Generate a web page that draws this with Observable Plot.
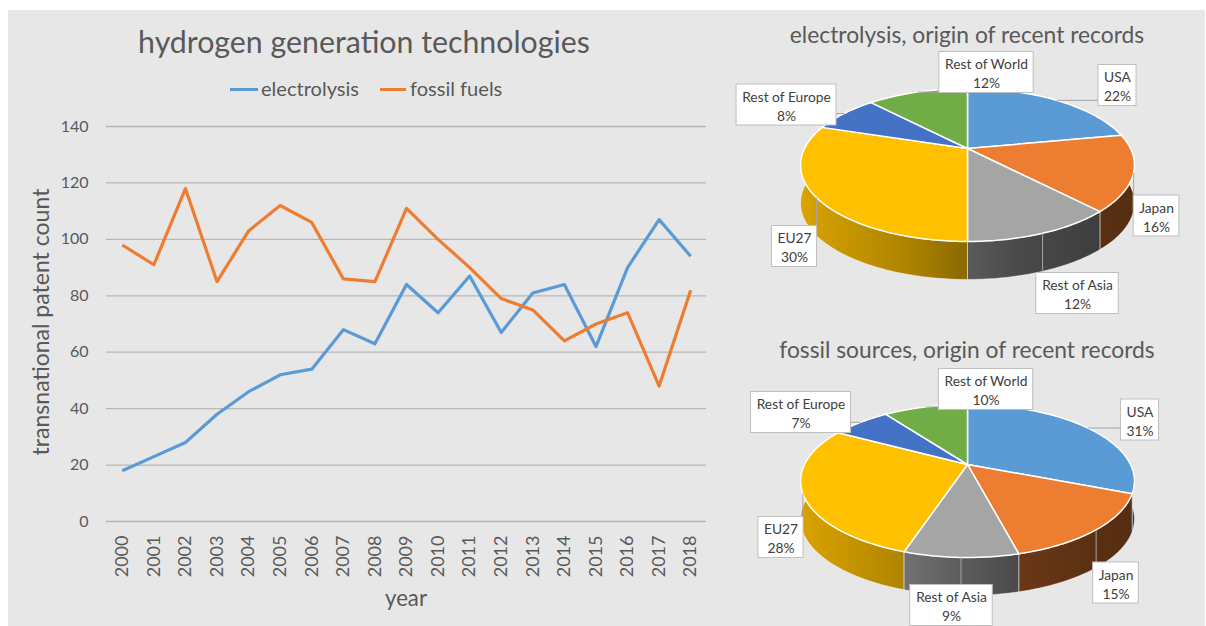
<!DOCTYPE html>
<html><head><meta charset="utf-8">
<script src="https://cdn.jsdelivr.net/npm/d3@7"></script>
<script src="https://cdn.jsdelivr.net/npm/@observablehq/plot@0.6"></script>
<style>
html,body{margin:0;padding:0;background:#fff;}
#root{position:relative;width:1206px;height:626px;overflow:hidden;font-family:Lato, sans-serif;}
#panel{position:absolute;left:8px;top:10px;width:1197px;height:616px;background:#e7e7e7;}
.abs{position:absolute;white-space:nowrap;color:#595959;line-height:1;}
svg{position:absolute;}
</style></head><body><div id="root"><div id="panel"></div></div>
<script>
// ---------- data ----------
const years = ["2000","2001","2002","2003","2004","2005","2006","2007","2008","2009","2010","2011","2012","2013","2014","2015","2016","2017","2018"];
const electrolysis = [18,23,28,38,46,52,54,68,63,84,74,87,67,81,84,62,90,107,94];
const fossilFuels = [98,91,118,85,103,112,106,86,85,111,100,90,79,75,64,70,74,48,82];
const seriesNames = ["electrolysis","fossil fuels"];
const yTicks = [0,20,40,60,80,100,120,140];
const regions = ["USA","Japan","Rest of Asia","EU27","Rest of Europe","Rest of World"];
const electrolysisShares = [22,16,12,30,8,12];
const fossilShares = [31,15,9,28,7,10];
const chartTitle = "hydrogen generation technologies";
const yTitle = "transnational patent count";
const xTitle = "year";
const pie1Title = "electrolysis, origin of recent records";
const pie2Title = "fossil sources, origin of recent records";

// ---------- styles / layout ----------
const lineColors = ["#5B9BD5","#ED7D31"];
const sliceColors = ["#5B9BD5","#ED7D31","#A5A5A5","#FFC000","#4472C4","#70AD47"];
const pie1Offsets = [[150,-63],[189,67.5],[110,145],[-173,98],[-181,-43.5],[19,-76]];
const pie2Offsets = [[172.5,-44.5],[148.5,118.5],[-16,141],[-186.5,73],[-166.5,-52],[18.5,-75]];

const root = document.getElementById("root");
const ctx = document.createElement("canvas").getContext("2d");
function textW(t, size){ ctx.font = `${size}px Lato`; return ctx.measureText(t).width; }
function fit(t, target){ return 100*target/textW(t,100); }
const XC = 0.134; // x-height centre offset (em) for Lato
function place(text, x, cy, size, opts={}){
  const d = document.createElement("div");
  d.className = "abs"; d.textContent = text;
  d.style.fontSize = size + "px";
  d.style.left = x + "px"; d.style.top = cy + "px";
  if (opts.left) d.style.transform = "translate(0,-50%)";
  else d.style.transform = `translate(-50%,-50%)${opts.rotate ? ` rotate(${opts.rotate}deg)` : ""}`;
  if (opts.color) d.style.color = opts.color;
  root.appendChild(d);
  return d;
}

// ---------- line chart ----------
const rows = [];
years.forEach((yr,i)=>{
  rows.push({year:yr, value:electrolysis[i], series:seriesNames[0]});
  rows.push({year:yr, value:fossilFuels[i], series:seriesNames[1]});
});
const lc = Plot.plot({
  width:720, height:626, marginLeft:106, marginRight:14, marginTop:126, marginBottom:105,
  style:{background:"transparent", fontFamily:"Lato, sans-serif", color:"#595959", overflow:"visible"},
  x:{type:"point", domain:years, padding:0.5, round:false, label:null},
  y:{domain:[0,140], label:null},
  color:{domain:seriesNames, range:lineColors},
  marks:[
    Plot.ruleY(yTicks, {stroke:"#b7b7b7", strokeWidth:1.3}),
    Plot.axisY({ticks:yTicks, tickSize:0, tickPadding:18, fontSize:16, label:null}),
    Plot.axisX({tickSize:0, tickPadding:14, tickRotate:-90, fontSize:18, label:null}),
    Plot.line(rows, {x:"year", y:"value", z:"series", stroke:"series", strokeWidth:3.2, strokeLinecap:"butt"})
  ]
});
lc.style.left = "0px"; lc.style.top = "0px";
root.appendChild(lc);

let fs = fit(chartTitle, 452);
place(chartTitle, 364, 45 - XC*fs, fs);
fs = fit(seriesNames[0], 98);
[[230,261],[380,410]].forEach(([sx,tx],i)=>{
  const sw = document.createElement("div");
  sw.style.cssText = `position:absolute;left:${sx}px;top:87.5px;width:${i?26:28}px;height:3px;background:${lineColors[i]};`;
  root.appendChild(sw);
  place(seriesNames[i], tx, 90.5 - XC*fs, fs, {left:true});
});
fs = fit(yTitle, 267);
place(yTitle, 44.2 - XC*fs, 321.5, fs, {rotate:-90});
fs = fit(xTitle, 42);
place(xTitle, 406, 601 - XC*fs, fs);

// ---------- pies ----------
const P = 0.216, R = 163, RB = 72.9, DEPTH = 38, PW = 486, CX = 247, CY = 148;
const DU = DEPTH/RB;
function rim(t){ const u = Math.sin(t), v = -Math.cos(t), k = 1/(1-P*v); return [u*k, v*k]; }
function arcPts(a0,a1){
  const n = Math.max(2, Math.ceil((a1-a0)/(Math.PI/180)));
  return d3.range(n+1).map(j=>rim(a0+(a1-a0)*j/n));
}
const shade = [[0,0.85],[0.32,0.68],[0.49,0.55],[0.65,0.45],[0.88,0.38],[1,0.36]];
const LFS = fit("Rest of Europe", 89);

function drawPie(id, shares, top, height, offsets){
  const arcs = d3.pie().sort(null).value(d=>d)(shares);
  const faces = [], wallsets = [], boxes = [], leaders = [];
  arcs.forEach((a,i)=>{
    const pts = arcPts(a.startAngle, a.endAngle);
    faces.push({k:i, x:0, y:0, f:sliceColors[i]});
    pts.forEach(([x,y])=>faces.push({k:i, x, y, f:sliceColors[i]}));
    faces.push({k:i, x:0, y:0, f:sliceColors[i]});
    const w = [];
    pts.forEach(([x,y])=>w.push({k:i, x, y, f:`url(#g${id}_${i})`}));
    pts.slice().reverse().forEach(([x,y])=>w.push({k:i, x, y:y+DU, f:`url(#g${id}_${i})`}));
    w.push(w[0]);
    wallsets.push({mv:d3.mean(pts, p=>p[1]), w});
    // label
    const [dx,dy] = offsets[i];
    const label = `${regions[i]}\n${shares[i]}%`;
    const bw = Math.max(textW(regions[i],LFS), textW(shares[i]+"%",LFS)) + 11;
    const bh = 41;
    const bx1 = dx-bw/2, bx2 = dx+bw/2, by1 = dy-bh/2, by2 = dy+bh/2;
    boxes.push({x1:bx1/R, x2:bx2/R, y1:by1/RB, y2:by2/RB, cx:dx/R, cy:dy/RB, label});
    const [ax,ay] = rim((a.startAngle+a.endAngle)/2);
    const apx = ax*R, apy = ay*RB;
    const qx = Math.max(bx1, Math.min(bx2, apx)), qy = Math.max(by1, Math.min(by2, apy));
    if (Math.hypot(qx-apx, qy-apy) > 1) leaders.push({x1:apx/R, y1:apy/RB, x2:qx/R, y2:qy/RB});
  });
  wallsets.sort((a,b)=>a.mv-b.mv);
  const walls = wallsets.flatMap(s=>s.w);
  const svg = Plot.plot({
    width:PW, height, margin:0,
    style:{background:"transparent", fontFamily:"Lato, sans-serif", overflow:"hidden"},
    x:{domain:[-1,1], range:[CX-R, CX+R], axis:null},
    y:{domain:[-1,1], range:[CY-RB, CY+RB], axis:null},
    color:{type:"identity"},
    marks:[
      Plot.line(walls, {x:"x", y:"y", z:"k", fill:"f", stroke:"#ffffff", strokeWidth:0.8, strokeOpacity:0.6, curve:"linear"}),
      Plot.line(faces, {x:"x", y:"y", z:"k", fill:"f", stroke:"#ffffff", strokeWidth:1.5, curve:"linear"}),
      Plot.link(leaders, {x1:"x1", y1:"y1", x2:"x2", y2:"y2", stroke:"#a6a6a6", strokeWidth:1}),
      Plot.rect(boxes, {x1:"x1", x2:"x2", y1:"y1", y2:"y2", fill:"#ffffff", stroke:"#bfbfbf", strokeWidth:1}),
      Plot.text(boxes, {x:"cx", y:"cy", text:"label", fontSize:LFS, lineHeight:19/LFS, fill:"#404040", lineAnchor:"middle"})
    ]
  });
  const xs = svg.scale("x");
  const defs = d3.select(svg).insert("defs", ":first-child");
  sliceColors.forEach((c,i)=>{
    const g = defs.append("linearGradient").attr("id", `g${id}_${i}`)
      .attr("gradientUnits","userSpaceOnUse")
      .attr("x1", xs.apply(-1.024)).attr("x2", xs.apply(1.024)).attr("y1",0).attr("y2",0);
    const b = d3.rgb(c);
    shade.forEach(([o,f])=>g.append("stop").attr("offset", o).attr("stop-color", d3.rgb(b.r*f, b.g*f, b.b*f).formatHex()));
  });
  svg.style.left = "720px"; svg.style.top = top + "px";
  root.appendChild(svg);
}
drawPie(1, electrolysisShares, 0, 316, pie1Offsets);
drawPie(2, fossilShares, 316, 310, pie2Offsets);
fs = fit(pie1Title, 355);
place(pie1Title, 967, 37.5 - XC*fs, fs);
fs = fit(pie2Title, 376);
place(pie2Title, 967, 353 - XC*fs, fs);
</script></body></html>
